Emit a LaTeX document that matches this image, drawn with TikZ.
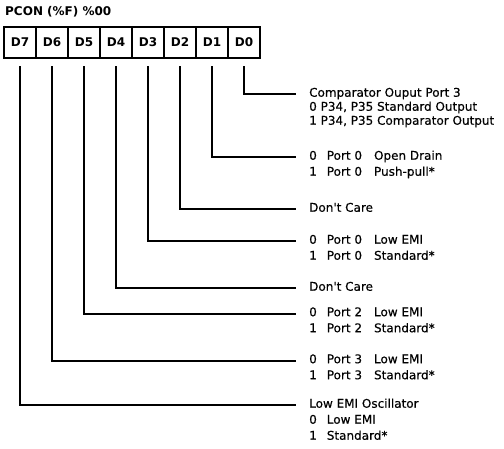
\documentclass[tikz,border=0pt]{standalone}
\usepackage{fontspec}
\setmainfont{DejaVu Sans}
\newfontfamily\lblfont{DejaVu Sans}[FakeBold=0.4]
\usetikzlibrary{positioning}

\begin{document}
\begin{tikzpicture}[
    x=1pt, y=-1pt,
    bit/.style={draw, line width=2pt, minimum width=32pt, minimum height=31pt,
      inner sep=0pt, outer sep=0pt, font=\bfseries\fontsize{12}{14}\selectfont},
    conn/.style={line width=2pt, shorten >=13pt},
    desc/.style={anchor=mid west, inner sep=0pt, font=\lblfont\fontsize{12}{16}\selectfont},
]
  \useasboundingbox (0,0) rectangle (504,448);

  \node[anchor=west, inner sep=0pt, font=\bfseries\fontsize{12}{14}\selectfont] (title) at (5,12) {PCON (\%F) \%00};

  % register bits
  \node[bit, anchor=north west] (d7) at (4,27) {D7};
  \node[bit, right=0pt of d7] (d6) {D6};
  \node[bit, right=0pt of d6] (d5) {D5};
  \node[bit, right=0pt of d5] (d4) {D4};
  \node[bit, right=0pt of d4] (d3) {D3};
  \node[bit, right=0pt of d3] (d2) {D2};
  \node[bit, right=0pt of d2] (d1) {D1};
  \node[bit, right=0pt of d1] (d0) {D0};

  % bit descriptions
  \node[desc] (t0) at (309,94) {\begin{tabular}[t]{@{}l@{}}
    Comparator Ouput Port 3\\[-2pt]
    0 P34, P35 Standard Output\\[-2pt]
    1 P34, P35 Comparator Output\end{tabular}};
  \node[desc] (t1) at (309,157) {\begin{tabular}[t]{@{}l@{\hspace{10pt}}l@{\hspace{12pt}}l@{}}
    0 & Port 0 & Open Drain\\
    1 & Port 0 & Push-pull*\end{tabular}};
  \node[desc] (t2) at (309,209) {Don't Care};
  \node[desc] (t3) at (309,241) {\begin{tabular}[t]{@{}l@{\hspace{10pt}}l@{\hspace{12pt}}l@{}}
    0 & Port 0 & Low EMI\\
    1 & Port 0 & Standard*\end{tabular}};
  \node[desc] (t4) at (309,288) {Don't Care};
  \node[desc] (t5) at (309,313.5) {\begin{tabular}[t]{@{}l@{\hspace{10pt}}l@{\hspace{12pt}}l@{}}
    0 & Port 2 & Low EMI\\
    1 & Port 2 & Standard*\end{tabular}};
  \node[desc] (t6) at (309,360.5) {\begin{tabular}[t]{@{}l@{\hspace{10pt}}l@{\hspace{12pt}}l@{}}
    0 & Port 3 & Low EMI\\
    1 & Port 3 & Standard*\end{tabular}};
  \node[desc] (t7) at (309,405) {\begin{tabular}[t]{@{}l@{\hspace{10pt}}l@{}}
    \multicolumn{2}{@{}l@{}}{Low EMI Oscillator}\\
    0 & Low EMI\\
    1 & Standard*\end{tabular}};

  \foreach \i in {0,...,7}
    \draw[conn] ([yshift=-8pt]d\i.south) |- (t\i.mid west);
\end{tikzpicture}
\end{document}
